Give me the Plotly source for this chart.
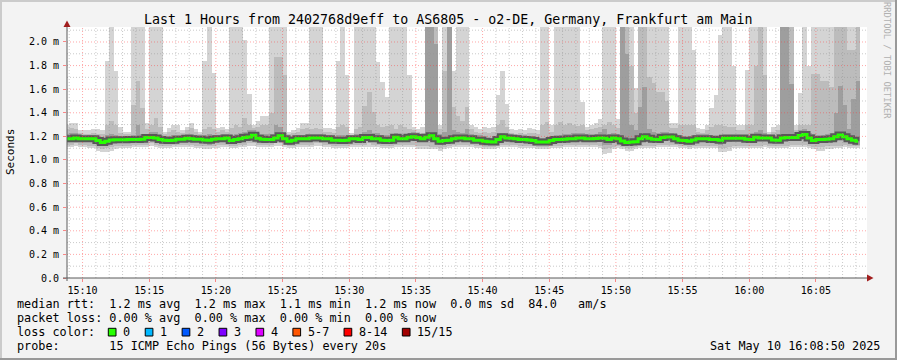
import plotly.graph_objects as go
from datetime import datetime, timedelta

# ---------------- data (milliseconds) ----------------
T = 2.5  # value above the visible range (clipped at the top of the graph)

start_time = datetime(2025, 5, 10, 15, 8, 50)
end_time = datetime(2025, 5, 10, 16, 8, 50)
step_seconds = 20

median_ms = [
    1.179, 1.179, 1.187, 1.179, 1.179, 1.179, 1.179, 1.165, 1.148, 1.159, 1.170, 1.172, 1.172, 1.172, 1.174,
    1.174, 1.174, 1.176, 1.190, 1.190, 1.187, 1.173, 1.168, 1.165, 1.168, 1.176, 1.176, 1.184, 1.179, 1.176,
    1.176, 1.170, 1.168, 1.176, 1.179, 1.179, 1.187, 1.165, 1.173, 1.179, 1.190, 1.195, 1.209, 1.184, 1.176,
    1.173, 1.173, 1.187, 1.205, 1.179, 1.159, 1.168, 1.179, 1.179, 1.181, 1.187, 1.187, 1.187, 1.181, 1.181,
    1.168, 1.168, 1.165, 1.168, 1.179, 1.179, 1.173, 1.190, 1.190, 1.181, 1.181, 1.168, 1.165, 1.168, 1.193,
    1.181, 1.181, 1.193, 1.198, 1.190, 1.179, 1.193, 1.205, 1.179, 1.159, 1.165, 1.168, 1.181, 1.187, 1.187,
    1.179, 1.179, 1.168, 1.168, 1.159, 1.155, 1.153, 1.173, 1.198, 1.187, 1.185, 1.179, 1.173, 1.173, 1.170,
    1.165, 1.153, 1.153, 1.153, 1.165, 1.173, 1.173, 1.176, 1.179, 1.181, 1.187, 1.187, 1.181, 1.181, 1.183,
    1.187, 1.185, 1.173, 1.187, 1.179, 1.160, 1.148, 1.153, 1.155, 1.179, 1.198, 1.185, 1.175, 1.173, 1.190,
    1.195, 1.195, 1.179, 1.168, 1.165, 1.159, 1.170, 1.179, 1.179, 1.179, 1.173, 1.173, 1.168, 1.184, 1.184,
    1.184, 1.184, 1.184, 1.176, 1.173, 1.193, 1.187, 1.187, 1.187, 1.170, 1.168, 1.187, 1.190, 1.190, 1.190,
    1.207, 1.215, 1.187, 1.165, 1.173, 1.173, 1.176, 1.179, 1.198, 1.212, 1.198, 1.179, 1.168, 1.159,
]

# outermost smoke band (min .. max ping)
smoke1_hi = [
    1.30, 1.31, 1.31, 1.25, 1.25, 1.25, 1.26, 1.26, 1.25, 1.84, T, 1.75, 1.28, 1.24, 1.24,
    T, T, T, 1.31, T, T, T, 1.24, 1.27, 1.30, 1.30, 1.25, 1.28, 1.31, 1.26,
    1.24, 1.84, T, 1.74, 1.27, 1.28, 1.26, T, T, T, 2.02, 1.56, 1.30, 1.33, 1.37,
    1.37, T, T, T, T, 1.24, 1.25, 1.27, 1.31, 1.31, T, T, T, 1.27, 1.27,
    1.26, 1.84, T, 1.72, 1.23, T, T, T, T, T, 1.83, 1.665, 1.53, T, T,
    T, T, 1.72, 1.28, 1.26, 1.28, T, T, T, 1.30, T, T, 1.75, T, T,
    T, 1.30, 1.28, 1.26, 1.28, 1.27, 1.28, 1.55, 1.75, 1.475, 1.26, 1.25, 1.26, 1.25, 1.27,
    1.26, 1.25, T, T, 1.30, T, T, T, T, T, T, 1.49, 1.28, 1.30, 1.31,
    1.35, T, T, T, 1.35, T, T, T, 1.61, T, T, T, T, T, T,
    T, 1.31, 1.31, T, T, T, 1.93, 1.27, 1.26, 1.30, 1.44, 1.55, 2.06, T, T,
    1.80, 1.30, 1.30, 1.76, T, T, T, T, 1.24, 1.28, 1.30, T, T, T, 1.30,
    1.57, T, 1.80, T, T, T, T, T, T, T, T, T, T, T,
]
smoke1_lo = [
    1.11, 1.11, 1.12, 1.11, 1.11, 1.10, 1.10, 1.08, 1.07, 1.07, 1.08, 1.09, 1.10, 1.10, 1.10,
    1.11, 1.11, 1.11, 1.11, 1.12, 1.11, 1.10, 1.10, 1.10, 1.11, 1.11, 1.11, 1.11, 1.11, 1.10,
    1.10, 1.09, 1.09, 1.10, 1.10, 1.11, 1.11, 1.10, 1.10, 1.11, 1.11, 1.12, 1.12, 1.11, 1.11,
    1.11, 1.11, 1.12, 1.12, 1.11, 1.10, 1.10, 1.11, 1.11, 1.11, 1.11, 1.12, 1.12, 1.11, 1.11,
    1.10, 1.10, 1.10, 1.10, 1.11, 1.11, 1.11, 1.11, 1.11, 1.11, 1.11, 1.10, 1.10, 1.10, 1.11,
    1.11, 1.11, 1.11, 1.11, 1.09, 1.09, 1.09, 1.09, 1.09, 1.08, 1.09, 1.10, 1.11, 1.11, 1.11,
    1.11, 1.11, 1.10, 1.10, 1.09, 1.09, 1.09, 1.10, 1.11, 1.11, 1.11, 1.11, 1.10, 1.10, 1.10,
    1.10, 1.09, 1.09, 1.09, 1.10, 1.10, 1.10, 1.11, 1.11, 1.11, 1.11, 1.11, 1.11, 1.11, 1.11,
    1.10, 1.05, 1.06, 1.09, 1.10, 1.09, 1.08, 1.08, 1.09, 1.10, 1.10, 1.10, 1.10, 1.11, 1.11,
    1.11, 1.11, 1.11, 1.10, 1.10, 1.09, 1.10, 1.10, 1.10, 1.10, 1.10, 1.10, 1.065, 1.07, 1.08,
    1.10, 1.10, 1.10, 1.10, 1.10, 1.10, 1.10, 1.11, 1.10, 1.10, 1.10, 1.10, 1.10, 1.11, 1.11,
    1.11, 1.11, 1.10, 1.09, 1.08, 1.08, 1.09, 1.09, 1.10, 1.10, 1.11, 1.10, 1.10, 1.10,
]

# second smoke band
smoke2_hi = [
    1.26, 1.27, 1.26, 1.23, 1.22, 1.22, 1.23, 1.22, 1.22, 1.30, 1.33, 1.30, 1.23, 1.22, 1.22,
    1.47, 1.67, 1.44, 1.26, 1.30, 1.36, 1.28, 1.22, 1.24, 1.25, 1.24, 1.23, 1.25, 1.27, 1.24,
    1.22, 1.26, 1.28, 1.26, 1.24, 1.25, 1.24, 1.27, 1.30, 1.28, 1.36, 1.30, 1.27, 1.28, 1.30,
    1.30, 1.40, 1.87, 1.87, 1.72, 1.22, 1.23, 1.24, 1.26, 1.27, 1.26, 1.27, 1.26, 1.24, 1.24,
    1.23, 1.28, 1.30, 1.28, 1.21, 1.26, 1.28, 1.455, 1.58, 1.41, 1.30, 1.28, 1.29, 1.30, 1.26,
    1.30, 1.28, 1.26, 1.25, 1.24, 1.23, T, T, T, 1.26, 1.755, T, 1.45, 1.37, 1.33,
    1.45, 1.26, 1.24, 1.23, 1.24, 1.23, 1.24, 1.30, 1.34, 1.28, 1.23, 1.22, 1.23, 1.22, 1.23,
    1.23, 1.22, 1.30, 1.32, 1.24, 1.30, 1.32, 1.30, 1.31, 1.30, 1.29, 1.30, 1.25, 1.26, 1.27,
    1.28, 1.30, 1.32, 1.30, 1.27, T, T, 1.80, 1.40, T, T, 1.70, 1.65, 1.58, 1.58,
    1.50, 1.27, 1.27, 1.30, 1.30, 1.30, 1.30, 1.24, 1.23, 1.25, 1.28, 1.30, 1.30, 1.29, 1.28,
    1.28, 1.25, 1.25, 1.30, 1.30, 1.80, T, 1.72, 1.22, 1.24, 1.25, T, T, T, 1.25,
    1.30, 1.30, 1.30, 1.73, 1.73, 1.67, 1.67, 1.62, T, T, T, 1.93, 1.93, T,
]
smoke2_lo = [
    1.13, 1.13, 1.14, 1.13, 1.13, 1.12, 1.12, 1.10, 1.09, 1.10, 1.11, 1.12, 1.12, 1.12, 1.12,
    1.13, 1.13, 1.13, 1.13, 1.14, 1.13, 1.12, 1.12, 1.12, 1.13, 1.13, 1.13, 1.13, 1.13, 1.12,
    1.12, 1.12, 1.12, 1.12, 1.13, 1.13, 1.13, 1.12, 1.12, 1.13, 1.13, 1.14, 1.14, 1.13, 1.13,
    1.13, 1.13, 1.14, 1.14, 1.13, 1.12, 1.12, 1.13, 1.13, 1.13, 1.13, 1.14, 1.14, 1.13, 1.13,
    1.12, 1.12, 1.12, 1.12, 1.13, 1.13, 1.13, 1.13, 1.14, 1.13, 1.13, 1.12, 1.12, 1.12, 1.13,
    1.13, 1.13, 1.13, 1.13, 1.12, 1.12, 1.12, 1.11, 1.11, 1.10, 1.11, 1.12, 1.13, 1.13, 1.13,
    1.13, 1.13, 1.12, 1.12, 1.11, 1.11, 1.11, 1.12, 1.13, 1.13, 1.13, 1.13, 1.12, 1.12, 1.12,
    1.12, 1.11, 1.11, 1.11, 1.12, 1.12, 1.12, 1.13, 1.13, 1.13, 1.13, 1.13, 1.13, 1.13, 1.13,
    1.12, 1.09, 1.10, 1.11, 1.12, 1.11, 1.10, 1.10, 1.11, 1.12, 1.12, 1.12, 1.12, 1.13, 1.13,
    1.13, 1.13, 1.13, 1.12, 1.12, 1.11, 1.12, 1.12, 1.12, 1.12, 1.12, 1.12, 1.10, 1.10, 1.11,
    1.12, 1.12, 1.12, 1.12, 1.12, 1.12, 1.12, 1.13, 1.12, 1.12, 1.12, 1.12, 1.12, 1.13, 1.13,
    1.13, 1.13, 1.12, 1.11, 1.11, 1.11, 1.12, 1.12, 1.12, 1.12, 1.13, 1.12, 1.12, 1.12,
]

# third (inner) smoke band
smoke3_hi = [
    1.22, 1.23, 1.23, 1.21, 1.20, 1.21, 1.21, 1.20, 1.19, 1.21, 1.22, 1.21, 1.20, 1.20, 1.20,
    1.21, 1.30, 1.22, 1.22, 1.24, 1.24, 1.21, 1.20, 1.20, 1.21, 1.21, 1.21, 1.22, 1.22, 1.21,
    1.21, 1.21, 1.22, 1.21, 1.21, 1.22, 1.22, 1.21, 1.22, 1.23, 1.24, 1.25, 1.25, 1.23, 1.22,
    1.22, 1.22, 1.30, 1.28, 1.23, 1.20, 1.20, 1.21, 1.21, 1.22, 1.22, 1.22, 1.22, 1.21, 1.21,
    1.20, 1.21, 1.21, 1.20, 1.20, 1.22, 1.22, 1.24, 1.25, 1.23, 1.23, 1.21, 1.21, 1.21, 1.23,
    1.22, 1.22, 1.23, 1.24, 1.23, 1.22, T, T, 1.985, 1.22, 1.24, T, 1.25, 1.24, 1.23,
    1.26, 1.22, 1.21, 1.21, 1.20, 1.19, 1.19, 1.21, 1.23, 1.22, 1.22, 1.21, 1.21, 1.21, 1.20,
    1.20, 1.19, 1.19, 1.19, 1.20, 1.21, 1.21, 1.22, 1.22, 1.23, 1.23, 1.23, 1.22, 1.22, 1.22,
    1.24, 1.26, 1.22, 1.23, 1.22, T, 1.90, 1.30, 1.25, 1.45, 1.62, 1.26, 1.24, 1.23, 1.24,
    1.24, 1.23, 1.22, 1.21, 1.20, 1.20, 1.21, 1.22, 1.22, 1.22, 1.21, 1.21, 1.21, 1.22, 1.22,
    1.22, 1.22, 1.22, 1.22, 1.21, 1.24, 1.25, 1.23, 1.21, 1.21, 1.22, T, T, 1.64, 1.24,
    1.25, 1.26, 1.23, 1.22, 1.21, 1.21, 1.22, 1.22, 1.40, 1.63, 1.47, 1.26, 1.52, 1.67,
]
smoke3_lo = [
    1.15, 1.15, 1.16, 1.15, 1.15, 1.15, 1.15, 1.13, 1.12, 1.13, 1.14, 1.14, 1.14, 1.14, 1.15,
    1.15, 1.15, 1.15, 1.16, 1.16, 1.16, 1.14, 1.14, 1.14, 1.14, 1.15, 1.15, 1.15, 1.15, 1.15,
    1.15, 1.14, 1.13, 1.14, 1.15, 1.15, 1.16, 1.14, 1.14, 1.15, 1.16, 1.16, 1.17, 1.16, 1.15,
    1.15, 1.15, 1.16, 1.17, 1.15, 1.13, 1.14, 1.15, 1.15, 1.15, 1.16, 1.16, 1.16, 1.15, 1.15,
    1.14, 1.14, 1.14, 1.14, 1.15, 1.15, 1.15, 1.16, 1.16, 1.15, 1.15, 1.14, 1.14, 1.14, 1.16,
    1.15, 1.15, 1.16, 1.16, 1.16, 1.15, 1.16, 1.17, 1.15, 1.13, 1.14, 1.14, 1.15, 1.16, 1.16,
    1.15, 1.15, 1.14, 1.14, 1.13, 1.13, 1.13, 1.14, 1.17, 1.16, 1.16, 1.15, 1.15, 1.15, 1.14,
    1.14, 1.13, 1.13, 1.13, 1.14, 1.15, 1.15, 1.15, 1.15, 1.16, 1.16, 1.16, 1.15, 1.15, 1.16,
    1.15, 1.13, 1.13, 1.15, 1.15, 1.13, 1.12, 1.12, 1.13, 1.15, 1.17, 1.16, 1.15, 1.15, 1.16,
    1.17, 1.17, 1.15, 1.14, 1.14, 1.13, 1.14, 1.15, 1.15, 1.15, 1.15, 1.15, 1.13, 1.14, 1.15,
    1.16, 1.16, 1.16, 1.15, 1.15, 1.16, 1.16, 1.16, 1.15, 1.14, 1.14, 1.16, 1.16, 1.16, 1.16,
    1.17, 1.18, 1.16, 1.14, 1.14, 1.14, 1.15, 1.15, 1.16, 1.17, 1.17, 1.15, 1.14, 1.13,
]

y_ticks = [0.0, 0.2, 0.4, 0.6, 0.8, 1.0, 1.2, 1.4, 1.6, 1.8, 2.0]
x_tick_labels = ["15:10", "15:15", "15:20", "15:25", "15:30", "15:35",
                 "15:40", "15:45", "15:50", "15:55", "16:00", "16:05"]

title_text = "Last 1 Hours from 2402768d9eff to AS6805 - o2-DE, Germany, Frankfurt am Main"
legend_line1 = "median rtt:  1.2 ms avg  1.2 ms max  1.1 ms min  1.2 ms now  0.0 ms sd  84.0   am/s"
legend_line2 = "packet loss: 0.00 % avg  0.00 % max  0.00 % min  0.00 % now"
legend_line3 = "loss color:"
legend_line4 = "probe:       15 ICMP Echo Pings (56 Bytes) every 20s"
date_text = "Sat May 10 16:08:50 2025"
loss_labels = ["0", "1", "2", "3", "4", "5-7", "8-14", "15/15"]
loss_colors = ["#26ff00", "#00b8ff", "#0059ff", "#7e00ff", "#dd00ff", "#ff5500", "#ff0000", "#a10000"]

# ---------------- geometry / style ----------------
W, H = 897, 360
ML, MR, MT, MB = 67, 30, 27, 82
PW = W - ML - MR
PH = H - MT - MB
Y_TOP = 2.127
MONO = "DejaVu Sans Mono"


def fx(px):
    return (px - ML) / PW


def fy(py):
    return (H - MB - py) / PH


def nb(s):
    return s.replace(" ", "\u00a0")


centers = [start_time + timedelta(seconds=step_seconds * k) for k in range(len(median_ms))]
bar_w = step_seconds * 1000 * 1.03

fig = go.Figure()
for lo, hi, col in [(smoke1_lo, smoke1_hi, "#d4d4d4"),
                    (smoke2_lo, smoke2_hi, "#bcbcbc"),
                    (smoke3_lo, smoke3_hi, "#9e9e9e")]:
    fig.add_trace(go.Bar(x=centers, y=[h - l for h, l in zip(hi, lo)], base=lo,
                         width=bar_w, marker=dict(color=col, line=dict(width=0)),
                         hoverinfo="skip", showlegend=False))

fig.add_trace(go.Scatter(x=centers, y=median_ms, mode="lines",
                         line=dict(color="#585858", width=7, shape="hvh"),
                         hoverinfo="skip", showlegend=False))
fig.add_trace(go.Scatter(x=centers, y=median_ms, mode="lines",
                         line=dict(color="#26ff00", width=3, shape="hvh"),
                         hoverinfo="skip", showlegend=False))

shapes = []
# grid (drawn above the smoke, as rrdtool does)
t = start_time.replace(second=0) + timedelta(minutes=1)
while t < end_time:
    major = t.minute % 5 == 0
    shapes.append(dict(type="line", xref="x", yref="paper", x0=t, x1=t, y0=0, y1=1,
                       layer="above",
                       line=dict(color="rgba(255,60,60,0.45)" if major else "rgba(150,150,150,0.5)",
                                 width=1, dash="1px,2px")))
    t += timedelta(minutes=1)
for i in range(1, 22):
    v = i / 10
    major = i % 2 == 0
    shapes.append(dict(type="line", xref="paper", yref="y", x0=0, x1=1, y0=v, y1=v,
                       layer="above",
                       line=dict(color="rgba(255,60,60,0.45)" if major else "rgba(150,150,150,0.5)",
                                 width=1, dash="1px,2px")))

# axes lines and arrows
axis_col = "#5a5a5a"
arrow_col = "#a11d1d"
shapes.append(dict(type="line", xref="paper", yref="paper", x0=fx(67), x1=fx(67),
                   y0=fy(281), y1=fy(25), line=dict(color=axis_col, width=1), layer="above"))
shapes.append(dict(type="line", xref="paper", yref="paper", x0=fx(63), x1=fx(868),
                   y0=fy(278), y1=fy(278), line=dict(color=axis_col, width=1), layer="above"))
shapes.append(dict(type="path", xref="paper", yref="paper", layer="above",
                   path=f"M {fx(67)},{fy(20.5)} L {fx(63.5)},{fy(27)} L {fx(70.5)},{fy(27)} Z",
                   fillcolor=arrow_col, line=dict(width=0)))
shapes.append(dict(type="path", xref="paper", yref="paper", layer="above",
                   path=f"M {fx(873.5)},{fy(278)} L {fx(867)},{fy(274.5)} L {fx(867)},{fy(281.5)} Z",
                   fillcolor=arrow_col, line=dict(width=0)))

# 3D frame around the image
for x0, x1, y0, y1, c in [(0, W, 0, 2, "#cbcbcb"), (0, 2, 0, H, "#cbcbcb"),
                          (0, W, H - 2, H, "#999999"), (W - 2, W, 0, H, "#999999")]:
    shapes.append(dict(type="rect", xref="paper", yref="paper", x0=fx(x0), x1=fx(x1),
                       y0=fy(y1), y1=fy(y0), fillcolor=c, line=dict(width=0), layer="above"))

# loss colour boxes
box_lefts = []
pos = 108.3
for lab in loss_labels:
    box_lefts.append(pos)
    pos += 14 + len(lab) * 7.12 + 15.8
for left, col in zip(box_lefts, loss_colors):
    shapes.append(dict(type="rect", xref="paper", yref="paper", x0=fx(left), x1=fx(left + 7.7),
                       y0=fy(336), y1=fy(328.3), fillcolor=col,
                       line=dict(color="#000000", width=1), layer="above"))

ann = []
txt_font = dict(family=MONO, size=11.8, color="#000000")
ann.append(dict(text=nb(title_text), x=fx(447.5), y=fy(19.3), xref="paper", yref="paper",
                xanchor="center", yanchor="middle", showarrow=False,
                font=dict(family=MONO, size=13.3, color="#000000")))
for line, py in [(legend_line1, 304.3), (legend_line2, 317.7), (legend_line3, 332.3), (legend_line4, 345.7)]:
    ann.append(dict(text=nb(line), x=fx(15), y=fy(py), xref="paper", yref="paper",
                    xanchor="left", yanchor="middle", showarrow=False, font=txt_font))
for left, lab in zip(box_lefts, loss_labels):
    ann.append(dict(text=nb(lab), x=fx(left + 13), y=fy(332.3), xref="paper", yref="paper",
                    xanchor="left", yanchor="middle", showarrow=False, font=txt_font))
ann.append(dict(text=nb(date_text), x=fx(882), y=fy(345.7), xref="paper", yref="paper",
                xanchor="right", yanchor="middle", showarrow=False, font=txt_font))
ann.append(dict(text="Seconds", x=fx(10), y=fy(152), xref="paper", yref="paper",
                xanchor="center", yanchor="middle", textangle=-90, showarrow=False,
                font=dict(family=MONO, size=11, color="#000000")))
ann.append(dict(text=nb("RRDTOOL / TOBI OETIKER"), x=fx(887.5), y=fy(60.5), xref="paper", yref="paper",
                xanchor="center", yanchor="middle", textangle=90, showarrow=False,
                font=dict(family=MONO, size=8.8, color="#b0b0b0")))

x_tick_vals = [datetime(2025, 5, 10, int(s[:2]), int(s[3:]), 0) for s in x_tick_labels]
y_tick_text = ["0.0" if v == 0 else f"{v:.1f} m" for v in y_ticks]

fig.update_layout(
    width=W, height=H,
    margin=dict(l=ML, r=MR, t=MT, b=MB, pad=0),
    paper_bgcolor="#f3f3f3", plot_bgcolor="#ffffff",
    barmode="overlay", bargap=0,
    showlegend=False,
    shapes=shapes, annotations=ann,
    xaxis=dict(type="date", range=[start_time, end_time], tickvals=x_tick_vals, ticktext=x_tick_labels,
               ticks="outside", ticklen=3, tickcolor="rgba(255,60,60,0.6)", showgrid=False,
               zeroline=False, showline=False, tickfont=dict(family=MONO, size=10, color="#000000"),
               fixedrange=True),
    yaxis=dict(range=[0, Y_TOP], tickvals=y_ticks, ticktext=y_tick_text,
               ticks="outside", ticklen=3, tickcolor="rgba(255,60,60,0.6)", showgrid=False,
               zeroline=False, showline=False, ticklabelstandoff=2,
               tickfont=dict(family=MONO, size=10, color="#000000"), fixedrange=True),
)

fig.write_html("out.html", config={"displayModeBar": False, "staticPlot": True},
               post_script="document.body.style.margin='0';document.body.style.overflow='hidden';")
